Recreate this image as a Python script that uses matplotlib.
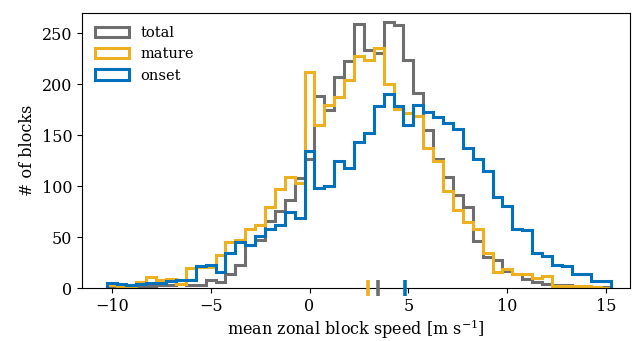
import numpy as np
import matplotlib
matplotlib.use('Agg')
from matplotlib import pyplot as plt

plt.rcParams['font.family'] = ['DejaVu Serif']
plt.rcParams['mathtext.fontset'] = 'dejavuserif'
plt.rcParams['font.size'] = 11.5

# bin centres (0.5 m/s bins from -10 to 15)
centers = np.arange(-10, 15.01, 0.5)
edges = np.arange(-10.25, 15.26, 0.5)

total = [1, 1, 1, 1, 2, 3, 3, 4, 3, 3, 8, 6, 14, 23, 42, 47, 66, 76, 86, 108,
         127, 188, 175, 207, 223, 259, 234, 231, 261, 258, 224, 191, 155, 127, 109,
         91, 79, 46, 30, 27, 17, 14, 9, 6, 4, 3, 3, 2, 2, 1, 1]
mature = [3, 1, 2, 6, 11, 8, 9, 4, 20, 21, 21, 32, 45, 47, 58, 62, 79, 97, 109, 103,
          212, 160, 180, 187, 204, 228, 224, 235, 200, 176, 172, 169, 137, 125, 95,
          77, 65, 58, 34, 16, 19, 14, 14, 10, 12, 2, 2, 2, 2, 1, 0]
onset = [5, 4, 3, 4, 5, 5, 7, 8, 8, 22, 23, 16, 34, 45, 42, 51, 58, 62, 75, 69,
         134, 98, 100, 125, 118, 143, 152, 179, 190, 179, 160, 180, 173, 168, 162,
         156, 137, 127, 115, 89, 80, 58, 57, 34, 31, 23, 22, 14, 14, 7, 7]

# mean speed of each group (ticks on the x axis)
means = [3.47, 2.96, 4.81]

labels = ['total', 'mature', 'onset']
colors = ['#6e6e6e', '#EDB120', '#0072BD']

fig = plt.figure(figsize=(6.38, 3.41), dpi=100)
ax = fig.add_axes([0.1285, 0.1554, 0.859, 0.807])

for data, lab, col in zip([total, mature, onset], labels, colors):
    ax.hist(centers, bins=edges, weights=data, histtype='step', color=col, lw=2.2, label=lab)

for m, col in zip(means, colors):
    ax.plot(m, 0, '|', color=col, ms=12, mew=2.6, clip_on=False, zorder=5)

ax.set_xlim(-11.5, 16.2)
ax.set_ylim(0, 270)
ax.set_xticks([-10, -5, 0, 5, 10, 15])
ax.set_yticks([0, 50, 100, 150, 200, 250])
ax.set_xlabel(r'mean zonal block speed [m s$^{-1}$]', labelpad=2)
ax.set_ylabel('# of blocks')
ax.legend(loc='upper left', frameon=False, fontsize=10.5, handlelength=2.3)

fig.savefig('out.png', dpi=100)
